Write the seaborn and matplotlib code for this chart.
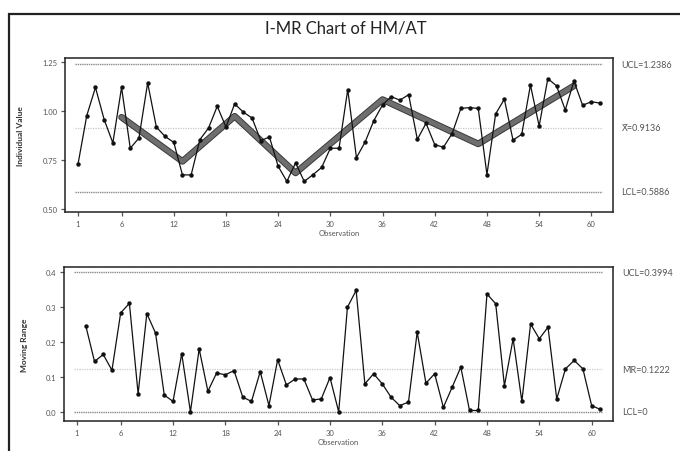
import matplotlib
matplotlib.use("Agg")
import matplotlib.pyplot as plt
import matplotlib.patheffects as pe
import numpy as np
import pandas as pd
import seaborn as sns

# Individual measurements of HM/AT, observations 1..61
values = [0.730, 0.976, 1.120, 0.956, 0.837, 1.120, 0.810, 0.862, 1.143, 0.918,
          0.870, 0.840, 0.674, 0.674, 0.854, 0.913, 1.024, 0.918, 1.036, 0.994,
          0.964, 0.849, 0.867, 0.718, 0.641, 0.735, 0.641, 0.675, 0.712, 0.810,
          0.810, 1.109, 0.762, 0.842, 0.951, 1.031, 1.073, 1.055, 1.083, 0.855,
          0.937, 0.828, 0.815, 0.885, 1.013, 1.017, 1.013, 0.676, 0.985, 1.060,
          0.851, 0.881, 1.132, 0.923, 1.165, 1.128, 1.005, 1.152, 1.029, 1.047,
          1.040]

# Trend overlay (turning points of the drift)
trend_obs = [6, 13, 19, 26, 36, 47, 58]
trend_vals = [0.968, 0.743, 0.973, 0.684, 1.058, 0.832, 1.128]

# Control limits
i_ucl, i_center, i_lcl = 1.2386, 0.9136, 0.5886
mr_ucl, mr_center, mr_lcl = 0.3994, 0.1222, 0.0

x_ticks = [1, 6, 12, 18, 24, 30, 36, 42, 48, 54, 60]
i_yticks = [0.50, 0.75, 1.00, 1.25]
mr_yticks = [0.0, 0.1, 0.2, 0.3, 0.4]

obs = np.arange(1, len(values) + 1)
df = pd.DataFrame({"Observation": obs, "Value": values})
df["MR"] = df["Value"].diff().abs()
mr_df = df.dropna()
trend_df = pd.DataFrame({"Observation": trend_obs, "Value": trend_vals})

sns.set_theme(style="white")
plt.rcParams["font.family"] = ["Lato", "DejaVu Sans"]

fig = plt.figure(figsize=(6.8, 4.52), dpi=100)
ax1 = fig.add_axes([0.0956, 0.5288, 0.806, 0.3407])
ax2 = fig.add_axes([0.0941, 0.0664, 0.808, 0.3407])

# Outer frame of the figure
fig.patches.append(plt.Rectangle((9 / 680, -0.02), 1.02, 1 - 15 / 452 + 0.02,
                                 transform=fig.transFigure, fill=False,
                                 edgecolor="#222222", linewidth=1.6))

fig.text(0.508, 0.938, "I-MR Chart of HM/AT", ha="center", va="center",
         fontsize=12, color="#222222")

limit_kw = dict(color="#8a8a8a", linewidth=1.0, linestyle=(0, (1, 0.6)))
center_kw = dict(color="#c8c8c8", linewidth=0.9, linestyle=(0, (1, 1)))


def style_axis(ax, yticks, ylim, ylabel, fmt):
    ax.set_xlim(-0.5, 62.5)
    ax.set_ylim(*ylim)
    ax.set_xticks(x_ticks)
    ax.set_xticklabels([str(t) for t in x_ticks])
    ax.set_yticks(yticks)
    ax.set_yticklabels([fmt.format(t) for t in yticks])
    ax.tick_params(axis="both", direction="out", length=3, width=0.9,
                   labelsize=5.5, colors="#555555", pad=2.5,
                   bottom=True, left=True)
    for s in ax.spines.values():
        s.set_color("#222222")
        s.set_linewidth(1.1)
    ax.set_xlabel("Observation", fontsize=5.5, color="#555555", labelpad=1.5)
    ax.set_ylabel(ylabel, fontsize=6, color="#333333", fontweight="bold",
                  labelpad=13)


# Individuals chart
ax1.hlines([i_ucl, i_lcl], 0.6, 61.2, **limit_kw)
ax1.hlines(i_center, 0.6, 61.2, **center_kw)
sns.lineplot(data=trend_df, x="Observation", y="Value", ax=ax1,
             color="#6e6e6e", linewidth=3.4,
             path_effects=[pe.Stroke(linewidth=4.8, foreground="#3a3a3a"), pe.Normal()])
sns.lineplot(data=df, x="Observation", y="Value", ax=ax1, color="#111111",
             linewidth=0.9, marker="o", markersize=3.2, markeredgewidth=0)
style_axis(ax1, i_yticks, (0.485, 1.27), "Individual Value", "{:.2f}")

# Moving range chart
ax2.hlines(mr_ucl, 0.6, 61.2, **limit_kw)
ax2.hlines(mr_lcl, 0.6, 61.2, **limit_kw)
ax2.hlines(mr_center, 0.6, 61.2, **center_kw)
sns.lineplot(data=mr_df, x="Observation", y="MR", ax=ax2, color="#111111",
             linewidth=0.9, marker="o", markersize=3.2, markeredgewidth=0)
style_axis(ax2, mr_yticks, (-0.026, 0.414), "Moving Range", "{:.1f}")


def limit_label(ax, y, text):
    ax.annotate(text, xy=(1.0, y), xycoords=("axes fraction", "data"),
                xytext=(6, 0), textcoords="offset points",
                fontsize=6.5, color="#555555", va="center", ha="left",
                annotation_clip=False)


limit_label(ax1, i_ucl, f"UCL={i_ucl:.4f}")
limit_label(ax1, i_center, f"X\u0304={i_center:.4f}")
limit_label(ax1, i_lcl, f"LCL={i_lcl:.4f}")
limit_label(ax2, mr_ucl, f"UCL={mr_ucl:.4f}")
limit_label(ax2, mr_center, f"M\u0304R={mr_center:.4f}")
limit_label(ax2, mr_lcl, "LCL=0")

fig.savefig("out.png", dpi=100)
